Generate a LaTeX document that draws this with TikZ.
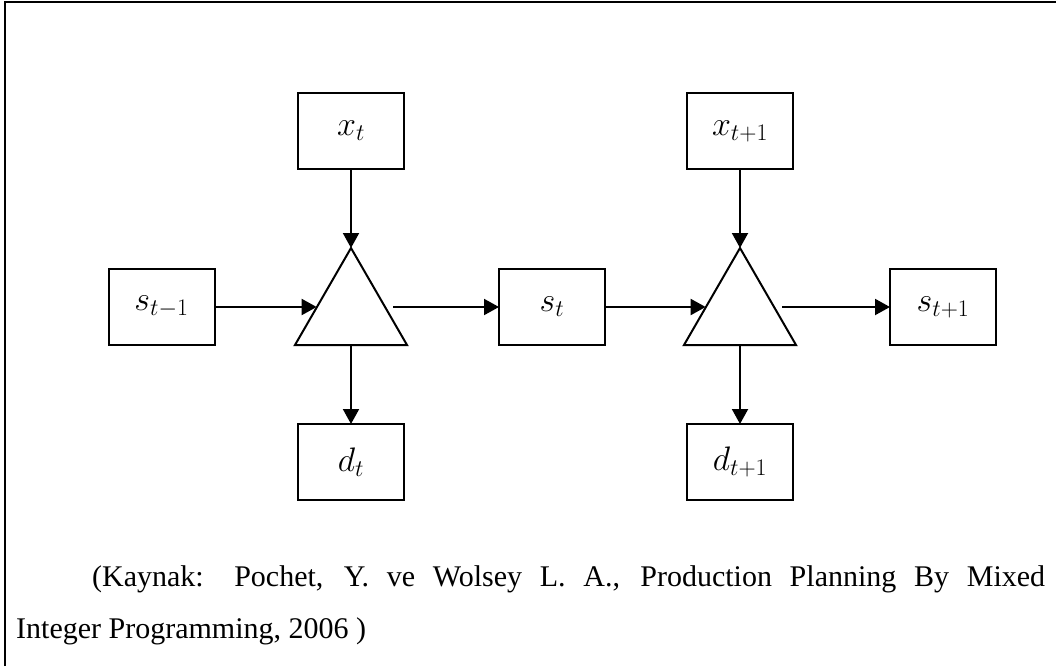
\RequirePackage{fix-cm}
\documentclass[tikz,border=0pt]{standalone}
\usepackage{fontspec}
\setmainfont{Liberation Serif}
\usetikzlibrary{shapes.geometric,arrows.meta}
\begin{document}
\begin{tikzpicture}[x=1pt,y=-1pt,
  box/.style={draw,line width=2pt,minimum width=106pt,minimum height=76pt,inner sep=0pt,outer sep=0pt,font=\fontsize{34}{40}\selectfont},
  tri/.style={draw,line width=2pt,regular polygon,regular polygon sides=3,minimum size=129.4pt,inner sep=0pt,outer sep=0pt},
  arr/.style={line width=2pt,-{Triangle[length=15pt,width=16pt]}},
  captext/.style={anchor=base west,inner sep=0pt,font=\fontsize{30}{36}\selectfont}]
\useasboundingbox (0,0) rectangle (1056,666);
\draw[line width=2pt] (5,666) -- (5,2) -- (1056,2);
% nodes
\node[box] (xt)  at (351,131) {$x_t$};
\node[box] (xt1) at (740,131) {$x_{t+1}$};
\node[box] (stm1) at (161.5,307) {$s_{t-1}$};
\node[box] (st)  at (552,307) {$s_t$};
\node[box] (st1) at (943,307) {$s_{t+1}$};
\node[box] (dt)  at (351,462) {$d_t$};
\node[box] (dt1) at (740,462) {$d_{t+1}$};
\node[tri] (tri1) at (351,312.7) {};
\node[tri] (tri2) at (740,312.7) {};
% connectors
\draw[arr] (xt.south) -- (tri1.corner 1);
\draw[arr] (xt1.south) -- (tri2.corner 1);
\draw[arr] (tri1.side 2) -- (dt.north);
\draw[arr] (tri2.side 2) -- (dt1.north);
\draw[arr] (stm1.east) -- ([xshift=3pt]stm1.east -| tri1.west);
\draw[arr] ([xshift=5pt]st.west -| tri1.east) -- (st.west);
\draw[arr] (st.east) -- ([xshift=3pt]st.east -| tri2.west);
\draw[arr] ([xshift=5pt]st1.west -| tri2.east) -- (st1.west);
% caption
\node[captext] (c1) at (92,586) {\makebox[953pt][s]{(Kaynak: Pochet, Y. ve Wolsey L. A., Production Planning By Mixed}};
\node[captext] (c2) at (16,638) {Integer Programming, 2006 )};
\end{tikzpicture}
\end{document}
